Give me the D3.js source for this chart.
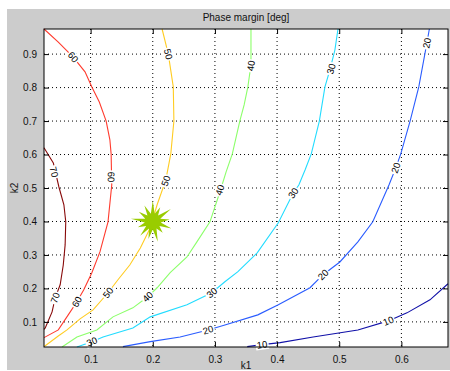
<!DOCTYPE html>
<html>
<head>
<meta charset="utf-8">
<script src="https://cdn.jsdelivr.net/npm/d3@7"></script>
<style>
  body { margin: 0; background: #fff; }
  text { font-family: "Liberation Sans", Arial, Helvetica, sans-serif; }
</style>
</head>
<body>
<svg id="chart" width="450" height="371"></svg>
<script>
// contour levels (phase margin, deg)
var levels = [10, 20, 30, 40, 50, 60, 70];

// contour lines, [k1, k2]
var contour10 = [[0.675,0.214],[0.646,0.166],[0.609,0.127],[0.579,0.103],[0.530,0.076],[0.458,0.055],[0.405,0.038],[0.376,0.032],[0.352,0.026]];
var contour20 = [[0.645,0.975],[0.641,0.933],[0.628,0.802],[0.614,0.700],[0.599,0.602],[0.591,0.560],[0.580,0.509],[0.554,0.399],[0.530,0.339],[0.501,0.279],[0.474,0.241],[0.453,0.202],[0.402,0.151],[0.369,0.121],[0.316,0.091],[0.289,0.076],[0.244,0.055],[0.196,0.041],[0.152,0.026]];
var contour30 = [[0.498,0.975],[0.493,0.912],[0.485,0.853],[0.477,0.802],[0.468,0.700],[0.455,0.602],[0.445,0.554],[0.435,0.509],[0.426,0.485],[0.402,0.396],[0.368,0.306],[0.337,0.250],[0.316,0.220],[0.295,0.187],[0.255,0.151],[0.196,0.115],[0.168,0.082],[0.120,0.055],[0.102,0.041],[0.078,0.025]];
var contour40 = [[0.358,0.975],[0.358,0.868],[0.353,0.802],[0.347,0.748],[0.340,0.700],[0.328,0.602],[0.318,0.548],[0.308,0.488],[0.292,0.399],[0.271,0.339],[0.255,0.294],[0.228,0.247],[0.207,0.202],[0.192,0.175],[0.168,0.142],[0.136,0.115],[0.110,0.076],[0.078,0.055],[0.054,0.025]];
var contour50 = [[0.215,0.975],[0.225,0.900],[0.233,0.802],[0.234,0.700],[0.229,0.602],[0.221,0.524],[0.207,0.450],[0.196,0.381],[0.180,0.321],[0.163,0.270],[0.144,0.226],[0.128,0.187],[0.104,0.136],[0.083,0.109],[0.062,0.076],[0.048,0.058],[0.027,0.029],[0.025,0.027]];
var contour60 = [[0.025,0.975],[0.048,0.936],[0.072,0.891],[0.091,0.847],[0.102,0.802],[0.114,0.757],[0.125,0.700],[0.131,0.644],[0.133,0.602],[0.134,0.509],[0.128,0.399],[0.115,0.309],[0.102,0.247],[0.089,0.196],[0.078,0.160],[0.064,0.121],[0.048,0.076],[0.025,0.053]];
var contour70 = [[0.025,0.620],[0.040,0.575],[0.049,0.503],[0.057,0.450],[0.060,0.399],[0.059,0.330],[0.056,0.270],[0.051,0.211],[0.043,0.172],[0.038,0.130],[0.027,0.082],[0.025,0.078]];

// inline label spots, [k1, k2]
var labels10 = [[0.579,0.103],[0.376,0.032]];
var labels20 = [[0.641,0.933],[0.591,0.560],[0.474,0.241],[0.289,0.076]];
var labels30 = [[0.487,0.856],[0.426,0.485],[0.295,0.187],[0.102,0.041]];
var labels40 = [[0.358,0.865],[0.308,0.494],[0.192,0.175]];
var labels50 = [[0.225,0.900],[0.221,0.521],[0.128,0.187]];
var labels60 = [[0.072,0.891],[0.133,0.533],[0.078,0.160]];
var labels70 = [[0.041,0.548],[0.043,0.172]];

var xTicks = [0.1, 0.2, 0.3, 0.4, 0.5, 0.6];
var yTicks = [0.1, 0.2, 0.3, 0.4, 0.5, 0.6, 0.7, 0.8, 0.9];
var operatingPoint = [0.2, 0.4];

var contours = [contour10, contour20, contour30, contour40, contour50, contour60, contour70];
var labelSets = [labels10, labels20, labels30, labels40, labels50, labels60, labels70];
var colors = ["#1010a8", "#2a5cff", "#22dcff", "#8cff6a", "#ffcc22", "#ff3b2e", "#880a0a"];

var margin = {top: 29, right: 2, bottom: 24, left: 44};
var width = 450 - margin.left - margin.right;
var height = 371 - margin.top - margin.bottom;

var svg = d3.select("#chart");

// figure background
svg.append("rect").attr("x", 7).attr("y", 9).attr("width", 443).attr("height", 361).attr("fill", "#cccccc");

var g = svg.append("g").attr("transform", "translate(" + margin.left + "," + margin.top + ")");

var xScale = d3.scaleLinear().domain([0.025, 0.675]).range([0, width]);
var yScale = d3.scaleLinear().domain([0.025, 0.975]).range([height, 0]);

g.append("rect").attr("width", width).attr("height", height).attr("fill", "#fff");

// dotted grid
g.append("g").selectAll("line").data(xTicks).join("line")
  .attr("x1", d => xScale(d)).attr("x2", d => xScale(d))
  .attr("y1", 0).attr("y2", height)
  .attr("stroke", "#000").attr("stroke-dasharray", "1,3");
g.append("g").selectAll("line").data(yTicks).join("line")
  .attr("y1", d => yScale(d)).attr("y2", d => yScale(d))
  .attr("x1", 0).attr("x2", width)
  .attr("stroke", "#000").attr("stroke-dasharray", "1,3");

// contour lines
var lineGen = d3.line().x(d => xScale(d[0])).y(d => yScale(d[1]));

g.append("g").selectAll("path").data(contours).join("path")
  .attr("d", lineGen)
  .attr("fill", "none")
  .attr("stroke", (d, i) => colors[i])
  .attr("stroke-width", 1.1);

// angle of the contour at a label spot
function labelAngle(pts, p) {
  var best = 0, bestD = Infinity;
  var px = xScale(p[0]), py = yScale(p[1]);
  for (var i = 0; i < pts.length - 1; i++) {
    var mx = (xScale(pts[i][0]) + xScale(pts[i + 1][0])) / 2;
    var my = (yScale(pts[i][1]) + yScale(pts[i + 1][1])) / 2;
    var dd = (mx - px) * (mx - px) + (my - py) * (my - py);
    if (dd < bestD) { bestD = dd; best = i; }
  }
  var a = Math.atan2(yScale(pts[best + 1][1]) - yScale(pts[best][1]),
                     xScale(pts[best + 1][0]) - xScale(pts[best][0])) * 180 / Math.PI;
  if (a > 90) a -= 180;
  if (a < -90) a += 180;
  return a;
}

var labelG = g.append("g");
labelSets.forEach(function (set, i) {
  set.forEach(function (p) {
    var a = labelAngle(contours[i], p);
    var lg = labelG.append("g")
      .attr("transform", "translate(" + xScale(p[0]) + "," + yScale(p[1]) + ") rotate(" + a + ")");
    lg.append("rect").attr("x", -6.5).attr("y", -5).attr("width", 13).attr("height", 10).attr("fill", "#fff");
    lg.append("text").text(levels[i])
      .attr("text-anchor", "middle").attr("dy", "0.35em")
      .attr("font-size", "9.5px").attr("fill", "#000");
  });
});

// operating point star
var spikes = [21, 16, 22, 17, 20, 15, 21, 18, 19, 16, 22, 17, 18];
var starPts = [];
spikes.forEach(function (r, i) {
  var step = 2 * Math.PI / spikes.length;
  starPts.push([i * step, r]);
  starPts.push([i * step + step / 2, 8]);
});
g.append("path")
  .attr("d", d3.lineRadial().angle(d => d[0]).radius(d => d[1]).curve(d3.curveLinearClosed)(starPts))
  .attr("transform", "translate(" + xScale(operatingPoint[0]) + "," + yScale(operatingPoint[1]) + ")")
  .attr("fill", "#99cc00");

// axes frame and inward ticks
g.append("rect").attr("width", width).attr("height", height).attr("fill", "none").attr("stroke", "#000");

var gX = g.append("g").attr("transform", "translate(0," + height + ")")
  .call(d3.axisBottom(xScale).tickValues(xTicks).tickSize(-5).tickPadding(9).tickFormat(d3.format(".1f")));
var gXt = g.append("g")
  .call(d3.axisTop(xScale).tickValues(xTicks).tickSize(-5).tickFormat(""));
var gY = g.append("g")
  .call(d3.axisLeft(yScale).tickValues(yTicks).tickSize(-5).tickPadding(7).tickFormat(d3.format(".1f")));
var gYr = g.append("g").attr("transform", "translate(" + width + ",0)")
  .call(d3.axisRight(yScale).tickValues(yTicks).tickSize(-5).tickFormat(""));

[gX, gXt, gY, gYr].forEach(function (ax) {
  ax.select(".domain").remove();
  ax.selectAll("text").attr("font-size", "10px").attr("fill", "#111")
    .attr("font-family", "\"Liberation Sans\", Arial, Helvetica, sans-serif");
});

// title and axis labels
svg.append("text").text("Phase margin [deg]")
  .attr("x", margin.left + width / 2).attr("y", 21)
  .attr("text-anchor", "middle").attr("font-size", "10px").attr("fill", "#111");
svg.append("text").text("k1")
  .attr("x", margin.left + width / 2).attr("y", 369)
  .attr("text-anchor", "middle").attr("font-size", "10px").attr("fill", "#111");
svg.append("text").text("k2")
  .attr("transform", "translate(18," + (margin.top + height / 2) + ") rotate(-90)")
  .attr("text-anchor", "middle").attr("font-size", "10px").attr("fill", "#111");
</script>
</body>
</html>
